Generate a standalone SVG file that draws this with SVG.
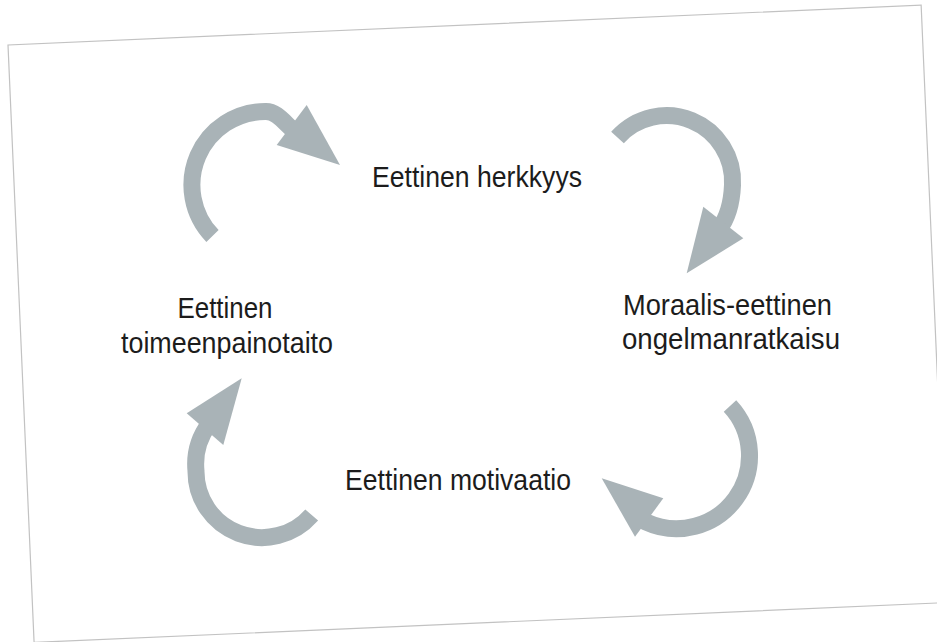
<svg xmlns="http://www.w3.org/2000/svg" width="937" height="642" viewBox="0 0 937 642">
  <style>
    .frame { fill: none; stroke: #c2c2c2; stroke-width: 1.2; }
    .band { fill: none; stroke: #a9b3b7; stroke-width: 17; stroke-linecap: butt; }
    .head { fill: #a9b3b7; }
    .label { font-family: "Liberation Sans", Arial, sans-serif; font-size: 30px; fill: #1c1c1c; }
    .mid { text-anchor: middle; }
  </style>

  <rect x="0" y="0" width="937" height="642" fill="#ffffff"/>

  <!-- tilted page frame -->
  <rect class="frame" x="8" y="45" width="914" height="598" transform="rotate(-2.5 8 45)"/>

  <!-- curved cycle arrows, all turning clockwise -->
  <g id="connectors">
    <g id="arrow-top-left">
      <path class="band" d="M212.5,236 A73.5,73.5 0 0 1 266,111.5 C276,111.5 283,121 294,131"/>
      <polygon class="head" points="306.7,105 276.7,145 340,165"/>
    </g>
    <g id="arrow-top-right">
      <path class="band" d="M617.5,137.5 A66,66 0 0 1 732.5,185 C732,197 730,215 719,229"/>
      <polygon class="head" points="703.3,206.7 743.3,238.3 686.7,273.3"/>
    </g>
    <g id="arrow-bottom-right">
      <path class="band" d="M730,406 A73,73 0 0 1 646,522 L640,518"/>
      <polygon class="head" points="663.3,498.3 635,536.7 601.7,478.3"/>
    </g>
    <g id="arrow-bottom-left">
      <path class="band" d="M311.7,515 A66,66 0 0 1 196,471 A68,68 0 0 1 209,424"/>
      <polygon class="head" points="186.7,413.3 223.3,445 241.7,378.3"/>
    </g>
  </g>

  <g id="node-herkkyys">
    <text class="label" x="372" y="187" textLength="210" lengthAdjust="spacingAndGlyphs">Eettinen herkkyys</text>
  </g>
  <g id="node-ongelmanratkaisu">
    <text class="label" x="623" y="315" textLength="209" lengthAdjust="spacingAndGlyphs">Moraalis-eettinen</text>
    <text class="label" x="622" y="349" textLength="218" lengthAdjust="spacingAndGlyphs">ongelmanratkaisu</text>
  </g>
  <g id="node-motivaatio">
    <text class="label" x="345" y="490" textLength="226" lengthAdjust="spacingAndGlyphs">Eettinen motivaatio</text>
  </g>
  <g id="node-toimeenpanotaito">
    <text class="label mid" x="225" y="318" textLength="95" lengthAdjust="spacingAndGlyphs">Eettinen</text>
    <text class="label mid" x="227" y="353" textLength="212" lengthAdjust="spacingAndGlyphs">toimeenpainotaito</text>
  </g>
</svg>
